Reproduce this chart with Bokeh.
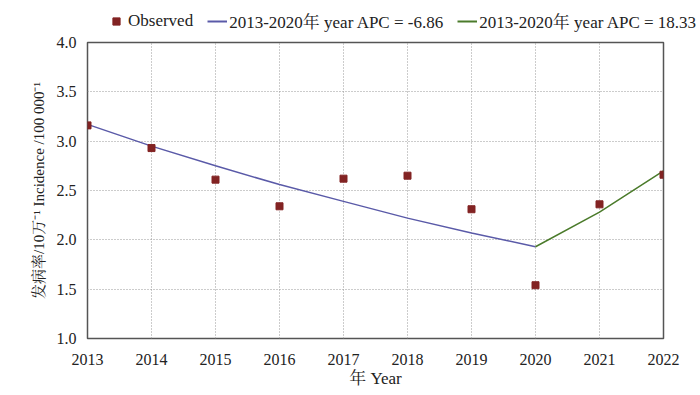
from bokeh.plotting import figure
from bokeh.layouts import column
from bokeh.models import Legend, LegendItem, FixedTicker, NumeralTickFormatter, Range1d
from bokeh.embed import file_html
from bokeh.resources import INLINE

years = [2013, 2014, 2015, 2016, 2017, 2018, 2019, 2020, 2021, 2022]
observed = [3.16, 2.93, 2.61, 2.34, 2.62, 2.65, 2.31, 1.54, 2.36, 2.66]
fit1_years = [2013, 2014, 2015, 2016, 2017, 2018, 2019, 2020]
fit1_vals = [3.17, 2.95, 2.75, 2.56, 2.39, 2.22, 2.07, 1.93]
fit2_years = [2020, 2021, 2022]
fit2_vals = [1.93, 2.28, 2.70]
y_ticks = [1.0, 1.5, 2.0, 2.5, 3.0, 3.5, 4.0]
legend_labels = ["Observed", "2013-2020年 year APC = -6.86", "2013-2020年 year APC = 18.33"]

FONT = "'Liberation Serif', 'Times New Roman', 'Noto Serif CJK SC', 'Noto Sans CJK SC', serif"
C_OBS = "#822323"
C_FIT1 = "#5a5aa8"
C_FIT2 = "#4b7b2b"

p = figure(frame_width=576, frame_height=296, output_backend="svg", toolbar_location=None,
           x_range=Range1d(2013, 2022), y_range=Range1d(1.0, 4.0),
           min_border_left=87, min_border_right=37, min_border_top=9, min_border_bottom=57)
p.frame_align = False

p.outline_line_color = "#555555"
p.outline_line_width = 1.5
p.background_fill_color = "white"
p.border_fill_color = "white"

for ax in (p.xaxis[0], p.yaxis[0]):
    ax.axis_line_color = None
    ax.major_tick_line_color = None
    ax.minor_tick_line_color = None
    ax.major_label_text_font = FONT
    ax.major_label_text_font_size = "16px"
    ax.major_label_text_color = "#222222"
    ax.axis_label_text_font = FONT
    ax.axis_label_text_font_style = "normal"
    ax.axis_label_text_color = "#222222"

p.xaxis.axis_label_text_font_size = "17px"
p.yaxis.axis_label_text_font_size = "15px"
p.xaxis.ticker = FixedTicker(ticks=years)
p.yaxis.ticker = FixedTicker(ticks=y_ticks)
p.yaxis.formatter = NumeralTickFormatter(format="0.0")
p.xaxis.major_label_standoff = 9
p.yaxis.major_label_standoff = 5
p.xaxis.axis_label = "年 Year"
p.yaxis.axis_label = "发病率/10万⁻¹ Incidence /100 000⁻¹"
p.xaxis.axis_label_standoff = 1
p.yaxis.axis_label_standoff = 7

p.grid.grid_line_color = "#999999"
p.grid.grid_line_dash = "1 2"
p.grid.grid_line_width = 1

p.line(fit1_years, fit1_vals, line_color=C_FIT1, line_width=1.5)
p.line(fit2_years, fit2_vals, line_color=C_FIT2, line_width=1.5)
p.scatter(years, observed, marker="square", size=7, fill_color=C_OBS, line_color=C_OBS)

# legend strip above the plot (proxy renderers lie outside the visible range)
top = figure(width=700, height=33, output_backend="svg", toolbar_location=None,
             x_range=Range1d(0, 1), y_range=Range1d(0, 1),
             x_axis_location=None, y_axis_location=None,
             min_border=0, min_border_left=0, min_border_right=0, min_border_top=0, min_border_bottom=0)
top.frame_align = False
top.grid.visible = False
top.outline_line_color = None
l_obs = top.scatter([-5], [-5], marker="square", size=6, fill_color=C_OBS, line_color=C_OBS)
l_fit1 = top.line([-5, -4], [-5, -5], line_color=C_FIT1, line_width=2)
l_fit2 = top.line([-5, -4], [-5, -5], line_color=C_FIT2, line_width=2)
legend = Legend(items=[LegendItem(label=legend_labels[0], renderers=[l_obs]),
                       LegendItem(label=legend_labels[1], renderers=[l_fit1]),
                       LegendItem(label=legend_labels[2], renderers=[l_fit2])],
                orientation="horizontal", location=(106, 0),
                label_text_font=FONT, label_text_font_size="17px", label_text_color="#222222",
                border_line_color=None, background_fill_alpha=0,
                glyph_width=20, glyph_height=18, label_height=18, label_standoff=2,
                spacing=14, padding=2, margin=0)
top.add_layout(legend, "center")

layout = column(top, p, spacing=0)
open("out.html", "w").write(file_html(layout, INLINE))
